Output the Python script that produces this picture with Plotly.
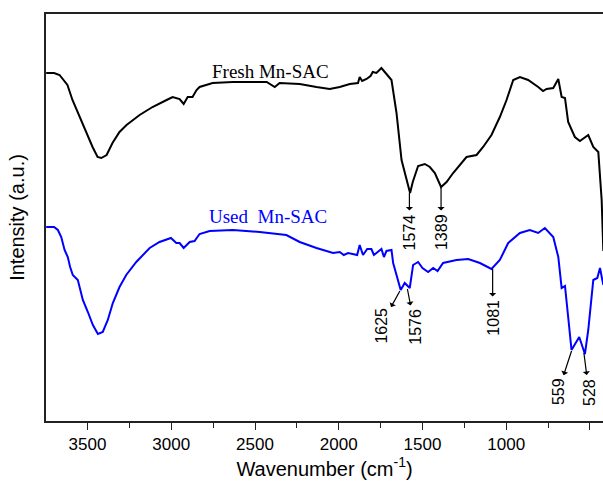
import plotly.graph_objects as go

# ---- data (wavenumber cm-1, intensity a.u.) ----
fresh_wn = [3747, 3700, 3667, 3620, 3590, 3548, 3506, 3470, 3440, 3418, 3386, 3351, 3309, 3267,
            3189, 3112, 3028, 2992, 2950, 2926, 2902, 2873, 2849, 2831, 2753, 2633, 2430, 2382,
            2353, 2233, 2133, 2054, 1994, 1934, 1885, 1875, 1860, 1834, 1810, 1797, 1775, 1760,
            1745, 1715, 1685, 1655, 1625, 1574, 1558, 1526, 1486, 1456, 1426, 1389, 1356, 1317,
            1277, 1237, 1177, 1138, 1088, 1038, 998, 958, 918, 869, 809, 780, 759, 719, 689, 669,
            649, 630, 590, 560, 510, 480, 450, 430, 420]
fresh_int = [348, 348, 346, 336, 321, 304, 288, 274, 264, 263, 266, 278, 289, 296,
             306, 314, 321, 324, 322, 317, 324, 324, 331, 334, 338, 339, 339, 334,
             338, 337, 334, 332, 334, 337, 338, 344, 340, 342, 345, 349, 348, 351,
             353, 347, 341, 308, 261, 228, 239, 255, 257, 254, 248, 234, 239, 248,
             256, 264, 266, 274, 286, 304, 321, 341, 344, 341, 334, 330, 332, 333, 342, 324,
             323, 299, 284, 280, 286, 274, 269, 221, 170]

used_wn = [3747, 3700, 3677, 3657, 3637, 3618, 3604, 3588, 3558, 3528, 3498, 3468, 3438, 3409,
           3379, 3349, 3309, 3269, 3209, 3129, 3070, 3002, 2970, 2950, 2926, 2890, 2861, 2831,
           2771, 2632, 2472, 2313, 2233, 2133, 2034, 1994, 1970, 1944, 1890, 1875, 1855, 1830,
           1805, 1790, 1775, 1745, 1730, 1715, 1685, 1675, 1630, 1606, 1576, 1556, 1526, 1500,
           1466, 1436, 1410, 1377, 1297, 1227, 1157, 1088, 1038, 988, 918, 859, 809, 769, 719,
           689, 669, 649, 630, 610, 564, 530, 510, 480, 456, 440, 420]
used_int = [194, 194, 191, 184, 171, 164, 154, 146, 141, 121, 109, 96, 87, 89,
            101, 118, 134, 146, 159, 173, 179, 183, 178, 178, 173, 179, 180, 187,
            190, 191, 189, 186, 179, 173, 168, 169, 166, 168, 166, 176, 166, 172,
            172, 166, 168, 172, 164, 170, 171, 158, 131, 138, 133, 156, 159, 153,
            149, 153, 150, 158, 161, 162, 158, 152, 161, 178, 188, 191, 188, 193, 184,
            164, 133, 135, 104, 71, 84, 67, 91, 141, 143, 153, 136]

x_ticks = [3500, 3000, 2500, 2000, 1500, 1000, 500]

fresh_peaks = ["1574", "1389"]
used_peaks = ["1625", "1576", "1081", "559", "528"]

# ---- figure ----
fig = go.Figure()
fig.add_trace(go.Scatter(x=fresh_wn, y=fresh_int, mode="lines",
                         line=dict(color="#000000", width=2), name="Fresh Mn-SAC",
                         showlegend=False))
fig.add_trace(go.Scatter(x=used_wn, y=used_int, mode="lines",
                         line=dict(color="#0000ff", width=2), name="Used Mn-SAC",
                         showlegend=False))

# arrow geometry: (label, curve_wn, curve_y, label_center_wn, label_center_y)
arrow_specs = [
    (fresh_peaks[0], 1578, 228, 1578, 189),
    (fresh_peaks[1], 1389, 234, 1389, 189),
    (used_peaks[0], 1635, 130, 1750, 95),
    (used_peaks[1], 1590, 132, 1546, 94),
    (used_peaks[2], 1081, 152, 1081, 103),
    (used_peaks[3], 610, 70, 690, 29),
    (used_peaks[4], 536, 68, 506, 29),
]
annotations = []
for lab, cwn, cy, twn, ty in arrow_specs:
    annotations.append(dict(x=cwn, y=cy, ax=twn, ay=ty, xref="x", yref="y",
                            axref="x", ayref="y", text=lab, showarrow=True,
                            arrowside="start", arrowhead=2, arrowsize=1.9,
                            arrowwidth=1.2, arrowcolor="#000000", standoff=0,
                            startstandoff=3, textangle=-90, borderpad=0,
                            font=dict(family="Liberation Sans, Arial", size=16,
                                      color="#000000")))

annotations.append(dict(x=2409, y=350, xref="x", yref="y", text="Fresh Mn-SAC",
                        showarrow=False,
                        font=dict(family="Liberation Serif, Times New Roman", size=19,
                                  color="#000000")))
annotations.append(dict(x=2421, y=205, xref="x", yref="y",
                        text="Used\u00a0\u00a0Mn-SAC", showarrow=False,
                        font=dict(family="Liberation Serif, Times New Roman", size=19,
                                  color="#0000ff")))

fig.update_layout(
    width=603, height=482,
    margin=dict(l=46, r=0, t=14, b=61),
    paper_bgcolor="white", plot_bgcolor="white",
    font=dict(family="Liberation Sans, Arial", color="#000000"),
    annotations=annotations,
    showlegend=False,
)
fig.update_xaxes(
    range=[3748, 422], showgrid=False, zeroline=False,
    showline=True, linecolor="#222222", linewidth=1.5, mirror=True,
    tickmode="array", tickvals=x_ticks, ticktext=[str(v) for v in x_ticks],
    ticks="outside", ticklen=7, tickwidth=1.3, tickcolor="#222222",
    tickfont=dict(size=17, family="Liberation Sans, Arial"),
    minor=dict(dtick=250, tick0=250, ticks="outside", ticklen=5, tickwidth=1.3,
               tickcolor="#222222", showgrid=False),
    title=dict(text="Wavenumber (cm<sup>-1</sup>)", standoff=8,
               font=dict(size=20, family="Liberation Sans, Arial")),
    automargin=False,
)
fig.update_yaxes(
    range=[0, 407], showgrid=False, zeroline=False,
    showline=True, linecolor="#222222", linewidth=1.5, mirror=False,
    showticklabels=False, ticks="",
    title=dict(text="Intensity (a.u.)", standoff=14,
               font=dict(size=20, family="Liberation Sans, Arial")),
    automargin=False,
)

fig.write_html("out.html")
